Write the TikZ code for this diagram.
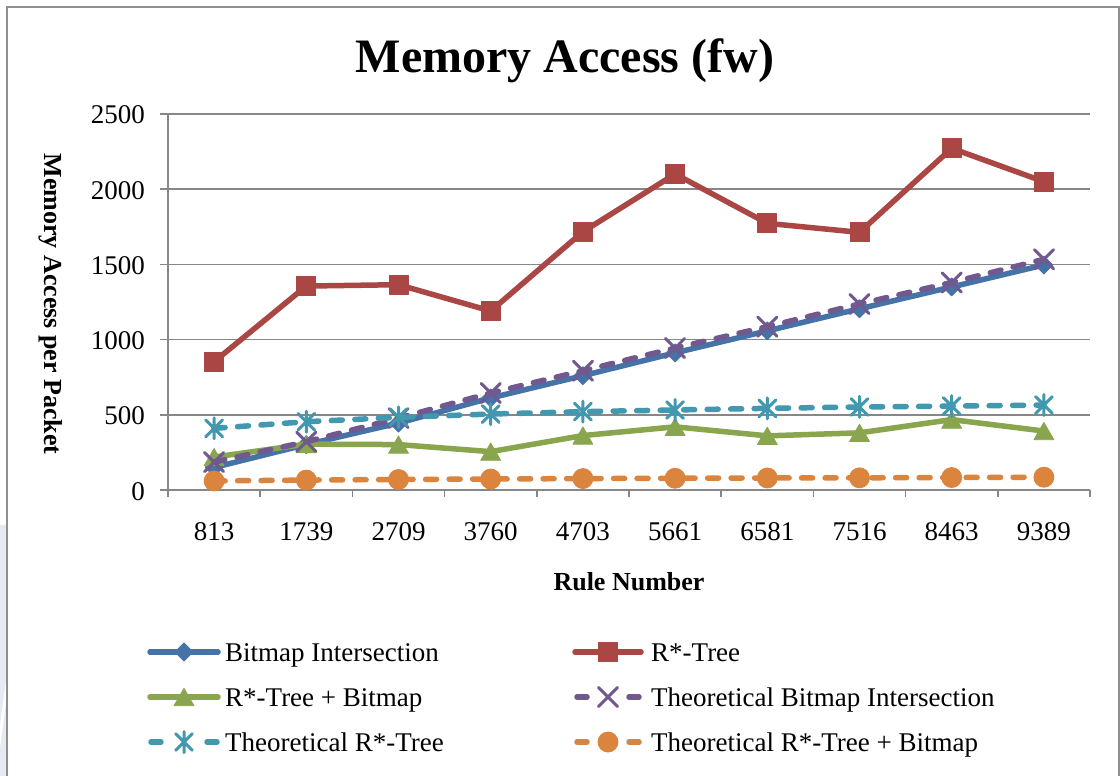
\documentclass[tikz,border=0pt]{standalone}
\usepackage{fontspec}
\setmainfont{Liberation Serif}
\usetikzlibrary{plotmarks}
\definecolor{cBlue}{HTML}{4572A7}
\definecolor{cRed}{HTML}{AA4643}
\definecolor{cGreen}{HTML}{89A54E}
\definecolor{cPurple}{HTML}{71588F}
\definecolor{cTeal}{HTML}{4198AF}
\definecolor{cOrange}{HTML}{DB843D}
\definecolor{gridc}{HTML}{878787}
\definecolor{framec}{HTML}{8F8F8F}
\definecolor{stripc}{HTML}{E6EAF3}
% Excel-like markers: square diamond and a star made of a vertical bar and an X
\pgfdeclareplotmark{xdiamond}{%
  \pgfpathmoveto{\pgfqpoint{0pt}{\pgfplotmarksize}}%
  \pgfpathlineto{\pgfqpoint{\pgfplotmarksize}{0pt}}%
  \pgfpathlineto{\pgfqpoint{0pt}{-\pgfplotmarksize}}%
  \pgfpathlineto{\pgfqpoint{-\pgfplotmarksize}{0pt}}%
  \pgfpathclose\pgfusepathqfillstroke}
\pgfdeclareplotmark{xstar}{%
  \pgfpathmoveto{\pgfqpoint{0pt}{\pgfplotmarksize}}%
  \pgfpathlineto{\pgfqpoint{0pt}{-\pgfplotmarksize}}%
  \pgfpathmoveto{\pgfqpoint{-.8\pgfplotmarksize}{-.8\pgfplotmarksize}}%
  \pgfpathlineto{\pgfqpoint{.8\pgfplotmarksize}{.8\pgfplotmarksize}}%
  \pgfpathmoveto{\pgfqpoint{-.8\pgfplotmarksize}{.8\pgfplotmarksize}}%
  \pgfpathlineto{\pgfqpoint{.8\pgfplotmarksize}{-.8\pgfplotmarksize}}%
  \pgfusepathqstroke}
\begin{document}
\begin{tikzpicture}[x=1pt,y=-1pt,
  gridline/.style={draw=gridc, line width=1.6pt},
  ticklab/.style={font=\fontsize{27}{30}\selectfont, inner sep=0pt},
  leglab/.style={font=\fontsize{27}{30}\selectfont, inner sep=0pt, anchor=base west},
  ser/.style={line width=5.5pt, line join=round, line cap=round},
  dsh/.style={dash pattern=on 11pt off 12.5pt},
  sBit/.style={ser, draw=cBlue, mark=xdiamond, mark size=9pt,
    mark options={solid, draw=cBlue, fill=cBlue, line width=0.8pt}},
  sR/.style={ser, draw=cRed, mark=square*, mark size=9.5pt,
    mark options={solid, draw=cRed, fill=cRed, line width=0.8pt}},
  sRB/.style={ser, draw=cGreen, mark=triangle*, mark size=11.5pt,
    mark options={solid, draw=cGreen, fill=cGreen, line width=0.8pt, yshift=-2.9pt}},
  sTB/.style={ser, draw=cPurple, mark=x, mark size=13.5pt,
    mark options={solid, draw=cPurple, line width=3pt}},
  sTR/.style={ser, draw=cTeal, mark=xstar, mark size=10.5pt,
    mark options={solid, draw=cTeal, line width=3pt}},
  sTRB/.style={ser, draw=cOrange, mark=*, mark size=10pt,
    mark options={solid, draw=cOrange, fill=cOrange, line width=0.8pt}},
]
\useasboundingbox (0,0) rectangle (1120,776);
\fill[white] (0,0) rectangle (1120,776);
% page tint left of the chart frame
\fill[stripc] (0,525) rectangle (6,776);
\fill[white] (6,680) -- (6,702) -- (0,748) -- (0,726) -- cycle;
% chart frame
\draw[framec, line width=2pt] (7,7) rectangle (1119,800);

% title
\node[anchor=base, font=\fontsize{48}{52}\selectfont\bfseries, inner sep=0pt] (title) at (565,73) {Memory Access (fw)};

% gridlines and value labels
\foreach \v [count=\k from 0] in {0,500,1000,1500,2000,2500} {
  \draw[gridline] (160,{490-75.2*\k}) -- (1090,{490-75.2*\k});
  \node[ticklab, anchor=base east] (yl\k) at (145,{500-75.2*\k}) {\v};
}
% vertical axis and category ticks
\draw[gridline] (168,114) -- (168,491);
\foreach \k in {0,...,10} \draw[gridline] ({168+92.2*\k},490) -- ({168+92.2*\k},497);
\foreach \r [count=\k from 0] in {813,1739,2709,3760,4703,5661,6581,7516,8463,9389}
  \node[ticklab, anchor=base] (xl\k) at ({214.1+92.2*\k},540) {\r};

% axis titles
\node[anchor=base, font=\fontsize{26}{30}\selectfont\bfseries, inner sep=0pt] (xtitle) at (629,590) {Rule Number};
\node[anchor=base, rotate=-90, font=\fontsize{26}{30}\selectfont\bfseries, inner sep=0pt] (ytitle) at (45,304) {Memory Access per Packet};

% data series
\begin{scope}[shift={(121.9,490)}, x=92.2pt, y=0.1504pt]
\draw[sBit] plot coordinates {(1,150) (2,302) (3,445) (4,612) (5,760) (6,912) (7,1058) (8,1205) (9,1350) (10,1496)};
\draw[sR] plot coordinates {(1,853) (2,1356) (3,1365) (4,1190) (5,1717) (6,2101) (7,1773) (8,1713) (9,2272) (10,2050)};
\draw[sRB] plot coordinates {(1,219) (2,305) (3,302) (4,255) (5,362) (6,420) (7,360) (8,380) (9,468) (10,392)};
\draw[sTB, dsh] plot coordinates {(1,186) (2,321) (3,478) (4,645) (5,793) (6,944) (7,1086) (8,1237) (9,1380) (10,1534)};
\draw[sTR, dsh] plot coordinates {(1,410) (2,454) (3,483) (4,505) (5,521) (6,532) (7,543) (8,552) (9,558) (10,565)};
\draw[sTRB, dsh] plot coordinates {(1,60) (2,66) (3,70) (4,73) (5,76) (6,78) (7,80) (8,81) (9,83) (10,85)};
\end{scope}

% legend
\draw[sBit] (150,652) -- (218,652);
\draw[sBit, only marks] plot coordinates {(184,652)};
\node[leglab] (l1) at (225,661) {Bitmap Intersection};
\draw[sR] (575,652) -- (641,652);
\draw[sR, only marks] plot coordinates {(608,652)};
\node[leglab] (l2) at (651,661) {R*-Tree};
\draw[sRB] (150,697) -- (218,697);
\draw[sRB, only marks] plot coordinates {(184,697)};
\node[leglab] (l3) at (225,706) {R*-Tree + Bitmap};
\draw[sTB] (577,697) -- (587,697) (629,697) -- (639,697);
\draw[sTB, only marks] plot coordinates {(608,697)};
\node[leglab] (l4) at (651,706) {Theoretical Bitmap Intersection};
\draw[sTR] (151,742) -- (161,742) (207,742) -- (217,742);
\draw[sTR, only marks] plot coordinates {(184,742)};
\node[leglab] (l5) at (225,751) {Theoretical R*-Tree};
\draw[sTRB] (577,742) -- (587,742) (629,742) -- (639,742);
\draw[sTRB, only marks] plot coordinates {(608,742)};
\node[leglab] (l6) at (651,751) {Theoretical R*-Tree + Bitmap};
\end{tikzpicture}
\end{document}
